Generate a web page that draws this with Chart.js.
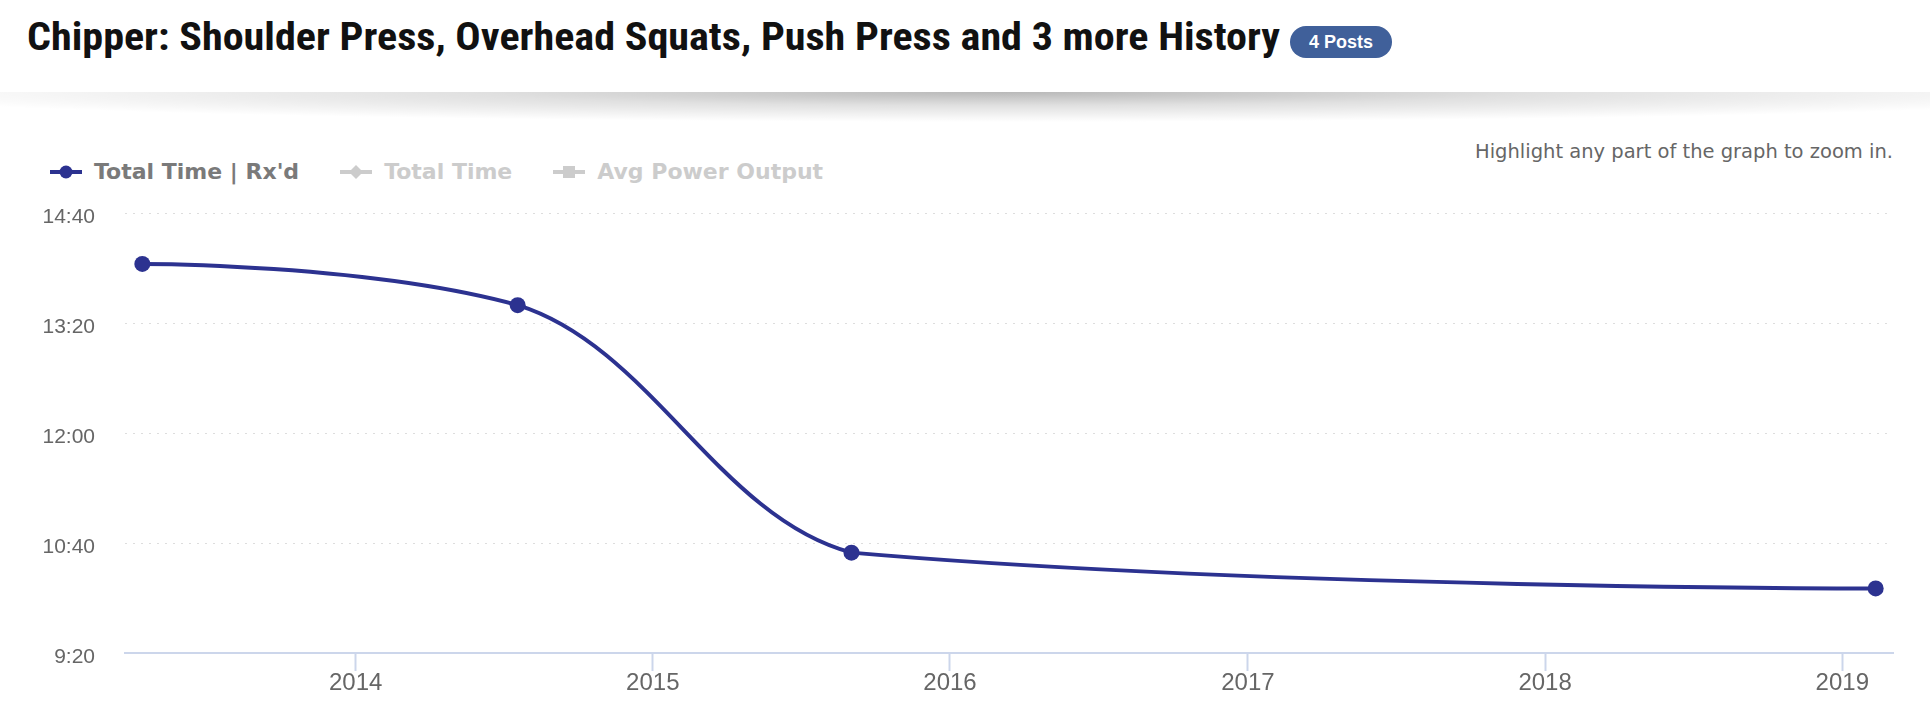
<!DOCTYPE html>
<html>
<head>
<meta charset="utf-8">
<script src="https://cdn.jsdelivr.net/npm/chart.js@4.4.0/dist/chart.umd.min.js"></script>
<style>
  html, body { margin: 0; padding: 0; background: #fff; }
  body { width: 1930px; height: 724px; position: relative; overflow: hidden; font-family: "DejaVu Sans", sans-serif; }
  #title { position: absolute; left: 27px; top: 18px; font-weight: bold; font-size: 38px; line-height: 38px;
    font-family: "Roboto Condensed", "Liberation Sans Narrow", "DejaVu Sans Condensed", Roboto, sans-serif;
    color: #111; white-space: nowrap; transform-origin: 0 0; }
  #badge { position: absolute; left: 1290px; top: 26px; width: 102px; height: 32px; border-radius: 16px;
    background: #40609a; color: #fff; font: bold 18px "Liberation Sans", Arial, sans-serif; line-height: 32px; text-align: center; }
  #shadow { position: absolute; left: 0; top: 92px; width: 1930px; height: 30px;
    background: radial-gradient(ellipse 60% 100% at 52% 0%, rgba(0,0,0,0.28) 0%, rgba(0,0,0,0.12) 45%, rgba(0,0,0,0) 100%); }
  #hint { position: absolute; right: 37px; top: 142px; font: 19.5px "DejaVu Sans", sans-serif; line-height: 19.5px; color: #666; }
  #legend { position: absolute; left: 50px; top: 161px; display: flex; align-items: center; height: 22px;
    font: bold 22px "DejaVu Sans", sans-serif; line-height: 22px; }
  #legend .item { display: flex; align-items: center; margin-right: 41px; }
  #legend svg { margin-right: 12px; }
  #chart { position: absolute; left: 0; top: 190px; }
</style>
</head>
<body>
<div id="title">Chipper: Shoulder Press, Overhead Squats, Push Press and 3 more History</div>
<div id="badge">4 Posts</div>
<div id="shadow"></div>
<div id="hint">Highlight any part of the graph to zoom in.</div>
<div id="legend"></div>
<canvas id="chart" width="1930" height="534"></canvas>
<script>
const seriesNames = ["Total Time | Rx'd", 'Total Time', 'Avg Power Output'];
const seriesShown = [true, false, false];
const postDates = ['2013-04-14', '2014-07-19', '2015-09-02', '2019-02-11'];
const rxTimes = ['14:03', '13:33', '10:33', '10:07'];
const yearTicks = [2014, 2015, 2016, 2017, 2018, 2019];
const timeTicks = ['9:20', '10:40', '12:00', '13:20', '14:40'];

const lineColor = '#2c3290';

const toSec = s => { const [m, ss] = s.split(':').map(Number); return m * 60 + ss; };
const fmtSec = v => Math.floor(v / 60) + ':' + String(Math.round(v % 60)).padStart(2, '0');
const toMs = d => { const [y, m, dd] = d.split('-').map(Number); return Date.UTC(y, m - 1, dd); };

const points = postDates.map((d, i) => ({ x: toMs(d), y: toSec(rxTimes[i]) }));
const xs = points.map(p => p.x);
const span = Math.max(...xs) - Math.min(...xs);
const xMin = Math.min(...xs) - span * 0.01;
const xMax = Math.max(...xs) + span * 0.01;
const ySecs = timeTicks.map(toSec);

// title squeezed to the width of the original heading
const title = document.getElementById('title');
title.style.transform = 'scaleX(' + (1253 / title.getBoundingClientRect().width) + ')';

// legend
const symbols = [
  c => '<circle cx="16" cy="11" r="6.5" fill="' + c + '"/>',
  c => '<path d="M16 4 L23 11 L16 18 L9 11 Z" fill="' + c + '"/>',
  c => '<rect x="10" y="5" width="12" height="12" fill="' + c + '"/>'
];
document.getElementById('legend').innerHTML = seriesNames.map((name, i) => {
  const c = seriesShown[i] ? lineColor : '#cccccc';
  const t = seriesShown[i] ? '#7a7a7a' : '#cccccc';
  return '<div class="item"><svg width="32" height="22"><line x1="0" y1="11" x2="32" y2="11" stroke="' + c +
    '" stroke-width="4"/>' + symbols[i](c) + '</svg><span style="color:' + t + '">' + name + '</span></div>';
}).join('');

// highcharts-like spline control points
const splinePlugin = {
  id: 'splinePlugin',
  beforeDatasetDraw(chart, args) {
    const line = args.meta.dataset;
    if (!line) return;
    line.updateControlPoints(chart.chartArea, 'x');
    const pts = args.meta.data;
    const s = 1.5, den = 2.5;
    pts.forEach((p, i) => {
      const prev = pts[i - 1], next = pts[i + 1];
      if (!prev || !next) { p.cp1x = p.x; p.cp1y = p.y; p.cp2x = p.x; p.cp2y = p.y; return; }
      let lx = (s * p.x + prev.x) / den, ly = (s * p.y + prev.y) / den;
      let rx = (s * p.x + next.x) / den, ry = (s * p.y + next.y) / den;
      if (rx !== lx) {
        const c = ((ry - ly) * (rx - p.x)) / (rx - lx) + p.y - ry;
        ly += c; ry += c;
      }
      if (ly > prev.y && ly > p.y) { ly = Math.max(prev.y, p.y); ry = 2 * p.y - ly; }
      else if (ly < prev.y && ly < p.y) { ly = Math.min(prev.y, p.y); ry = 2 * p.y - ly; }
      if (ry > next.y && ry > p.y) { ry = Math.max(next.y, p.y); ly = 2 * p.y - ry; }
      else if (ry < next.y && ry < p.y) { ry = Math.min(next.y, p.y); ly = 2 * p.y - ry; }
      p.cp1x = lx; p.cp1y = ly; p.cp2x = rx; p.cp2y = ry;
    });
    line._path = undefined;
  }
};

new Chart(document.getElementById('chart'), {
  type: 'line',
  data: {
    datasets: [{
      label: seriesNames[0],
      data: points,
      borderColor: lineColor,
      borderWidth: 4,
      backgroundColor: lineColor,
      pointRadius: 8,
      pointBorderWidth: 0,
      pointBackgroundColor: lineColor,
      tension: 0.4,
      fill: false
    }]
  },
  options: {
    responsive: false,
    animation: false,
    layout: { padding: { top: 23, right: 37, bottom: 0, left: 0 } },
    plugins: { legend: { display: false }, tooltip: { enabled: false } },
    scales: {
      x: {
        type: 'linear',
        min: xMin,
        max: xMax,
        afterBuildTicks: sc => { sc.ticks = yearTicks.map(y => ({ value: Date.UTC(y, 0, 1) })); },
        afterFit: sc => { sc.height = 71; },
        ticks: {
          autoSkip: false, maxRotation: 0, padding: 0, color: '#666',
          font: { family: 'Liberation Sans', size: 24, lineHeight: 1 },
          callback: v => String(new Date(v).getUTCFullYear())
        },
        grid: { drawOnChartArea: false, drawTicks: true, tickLength: 18, tickColor: '#ccd6eb', tickWidth: 2 },
        border: { color: '#ccd6eb', width: 2 }
      },
      y: {
        min: ySecs[0],
        max: ySecs[ySecs.length - 1],
        afterBuildTicks: sc => { sc.ticks = ySecs.map(v => ({ value: v })); },
        afterFit: sc => { sc.width = 125; },
        ticks: {
          padding: 0, color: '#666', labelOffset: 4,
          font: { family: 'Liberation Sans', size: 21 },
          callback: v => fmtSec(v)
        },
        grid: { color: '#dddddd', lineWidth: 1, drawTicks: true, tickLength: 30, tickColor: 'rgba(0,0,0,0)' },
        border: { display: false, dash: [2, 6] }
      }
    }
  },
  plugins: [splinePlugin]
});
</script>
</body>
</html>
